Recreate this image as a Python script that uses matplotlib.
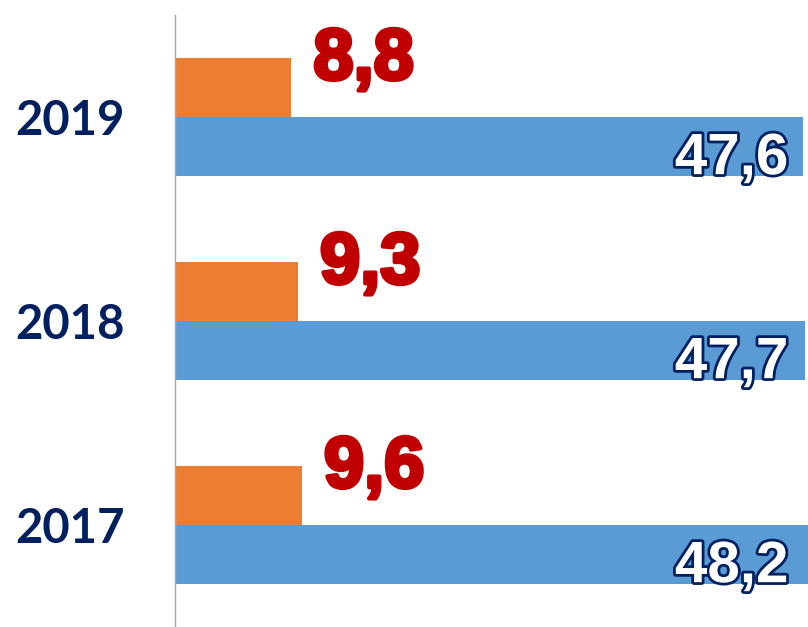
import numpy as np
import matplotlib.pyplot as plt
import matplotlib.patheffects as pe

years = ['2017', '2018', '2019']
orange_vals = [9.6, 9.3, 8.8]
blue_vals = [48.2, 47.7, 47.6]

fig = plt.figure(figsize=(8.08, 6.27), dpi=100)
ax = fig.add_axes([175/808, 0, 1 - 175/808, 1 - 15/627])

y = np.arange(len(years))
h = 0.288
xmax = 47.95

ax.barh(y + h/2, orange_vals, height=h, color='#ED7D31')
ax.barh(y - h/2, blue_vals, height=h, color='#5B9BD5')

# red labels outside the orange bars
for yi, v in zip(y, orange_vals):
    ax.annotate(f'{v:.1f}'.replace('.', ','), (v, yi + h/2), xytext=(16, 6),
                textcoords='offset points', ha='left', va='baseline',
                fontsize=52, fontweight='bold', color='#C00000',
                family='Liberation Sans',
                path_effects=[pe.withStroke(linewidth=3, foreground='#C00000')])

# white outlined labels at the end of the blue bars
for yi, v in zip(y, blue_vals):
    ax.annotate(f'{v:.1f}'.replace('.', ','), (xmax, yi - h/2), xytext=(-14, -20),
                textcoords='offset points', ha='right', va='baseline',
                fontsize=42, fontweight='bold', color='white',
                family='Liberation Sans',
                path_effects=[pe.withStroke(linewidth=4, foreground='#002060')])

ax.set_xlim(0, xmax)
ax.set_ylim(-0.5, 2.5)
ax.set_yticks(y)
ax.set_yticklabels(years, fontsize=34, fontweight='bold', color='#002060', family='Lato')
ax.tick_params(axis='y', length=0, pad=36)
ax.set_xticks([])
for s in ['top', 'right', 'bottom']:
    ax.spines[s].set_visible(False)
ax.spines['left'].set_color('#A6A6A6')
ax.spines['left'].set_linewidth(1)

fig.savefig('out.png', dpi=100)
